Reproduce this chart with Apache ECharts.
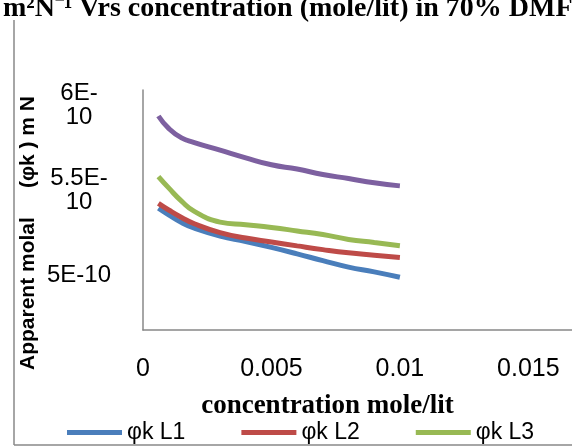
<!DOCTYPE html>
<html>
<head>
<meta charset="utf-8">
<script src="https://cdn.jsdelivr.net/npm/echarts@6/dist/echarts.min.js"></script>
<style>
  html, body { margin: 0; padding: 0; background: #fff; }
  #chart { width: 572px; height: 447px; }
</style>
</head>
<body>
<div id="chart"></div>
<script>
// concentration (mole/lit)
var concentration = [0.0006, 0.001, 0.0015, 0.002, 0.003, 0.004, 0.005, 0.006, 0.007, 0.008, 0.009, 0.01];
// apparent molal values
var phiL1 = [5.392e-10, 5.353e-10, 5.308e-10, 5.275e-10, 5.229e-10, 5.197e-10, 5.162e-10, 5.124e-10, 5.084e-10, 5.046e-10, 5.018e-10, 4.986e-10];
var phiL2 = [5.421e-10, 5.382e-10, 5.338e-10, 5.301e-10, 5.249e-10, 5.217e-10, 5.194e-10, 5.171e-10, 5.149e-10, 5.130e-10, 5.116e-10, 5.102e-10];
var phiL3 = [5.579e-10, 5.512e-10, 5.434e-10, 5.374e-10, 5.311e-10, 5.295e-10, 5.279e-10, 5.259e-10, 5.238e-10, 5.209e-10, 5.191e-10, 5.172e-10];
var phiL4 = [5.935e-10, 5.862e-10, 5.806e-10, 5.779e-10, 5.734e-10, 5.689e-10, 5.648e-10, 5.623e-10, 5.591e-10, 5.567e-10, 5.542e-10, 5.524e-10];
var seriesNames = ['φk L1', 'φk L2', 'φk L3', 'φk L4'];
var seriesColors = ['#4a7ebb', '#be4b48', '#98b954', '#7d60a0'];
// y tick labels as printed (Excel wrapped them)
var yTickValues = [5e-10, 5.5e-10, 6e-10];
var yTickLabels = ['5E-10', '5.5E-\n10', '6E-\n10'];

function pairs(ys) {
  return concentration.map(function (x, i) { return [x, ys[i]]; });
}

(function () {
  var myChart = echarts.init(document.getElementById('chart'));
  var allData = [phiL1, phiL2, phiL3, phiL4];
  var option = {
    animation: false,
    backgroundColor: '#fff',
    grid: {
      left: 143,
      top: 90,
      right: 0,
      bottom: 117
    },
    legend: {
      data: seriesNames.slice(0, 3),
      left: 62,
      top: 416,
      icon: 'rect',
      itemWidth: 55,
      itemHeight: 5,
      itemGap: 56,
      textStyle: {
        fontFamily: 'Liberation Sans',
        fontSize: 23,
        color: '#000'
      }
    },
    xAxis: {
      type: 'value',
      min: 0,
      max: 0.0167,
      interval: 0.005,
      name: 'concentration mole/lit',
      nameLocation: 'middle',
      nameGap: 63,
      nameTextStyle: {
        fontFamily: 'Liberation Serif',
        fontWeight: 'bold',
        fontSize: 27,
        color: '#000',
        padding: [0, 60, 0, 0]
      },
      axisLine: { lineStyle: { color: '#888', width: 1.5 } },
      axisTick: { show: false },
      splitLine: { show: false },
      axisLabel: {
        margin: 27,
        showMaxLabel: false,
        fontFamily: 'Liberation Sans',
        fontSize: 25,
        color: '#000'
      }
    },
    yAxis: {
      type: 'value',
      min: 4.676e-10,
      max: 6.088e-10,
      splitNumber: 3,
      name: 'Apparent molal     (φk ) m N',
      nameLocation: 'middle',
      nameRotate: 90,
      nameGap: 104,
      nameMoveOverlap: false,
      nameTextStyle: {
        fontFamily: 'Liberation Sans',
        fontWeight: 'bold',
        fontSize: 21,
        color: '#000',
        padding: [0, 46, 0, 0]
      },
      axisLine: { show: true, lineStyle: { color: '#888', width: 1.5 } },
      axisTick: { show: false },
      splitLine: { show: false },
      axisLabel: {
        showMinLabel: false,
        showMaxLabel: false,
        margin: 64,
        align: 'center',
        lineHeight: 24,
        fontFamily: 'Liberation Sans',
        fontSize: 24,
        color: '#000',
        formatter: function (v) {
          for (var i = 0; i < yTickValues.length; i++) {
            if (Math.abs(v - yTickValues[i]) < 1e-13) return yTickLabels[i];
          }
          return '';
        }
      }
    },
    graphic: [
      {
        type: 'text',
        left: 3,
        top: -5,
        style: {
          text: 'm²N⁻¹ Vrs concentration (mole/lit) in 70% DMF',
          font: 'bold 28px "Liberation Serif"',
          fill: '#000'
        }
      },
      {
        type: 'line',
        shape: { x1: 14, y1: 20, x2: 14, y2: 445 },
        style: { stroke: '#888', lineWidth: 1.5 }
      },
      {
        type: 'line',
        shape: { x1: 14, y1: 445, x2: 572, y2: 445 },
        style: { stroke: '#888', lineWidth: 1.5 }
      }
    ],
    series: allData.map(function (d, i) {
      return {
        name: seriesNames[i],
        type: 'line',
        smooth: true,
        showSymbol: false,
        color: seriesColors[i],
        lineStyle: { width: 5, color: seriesColors[i] },
        data: pairs(d)
      };
    })
  };
  myChart.setOption(option);
})();
</script>
</body>
</html>
